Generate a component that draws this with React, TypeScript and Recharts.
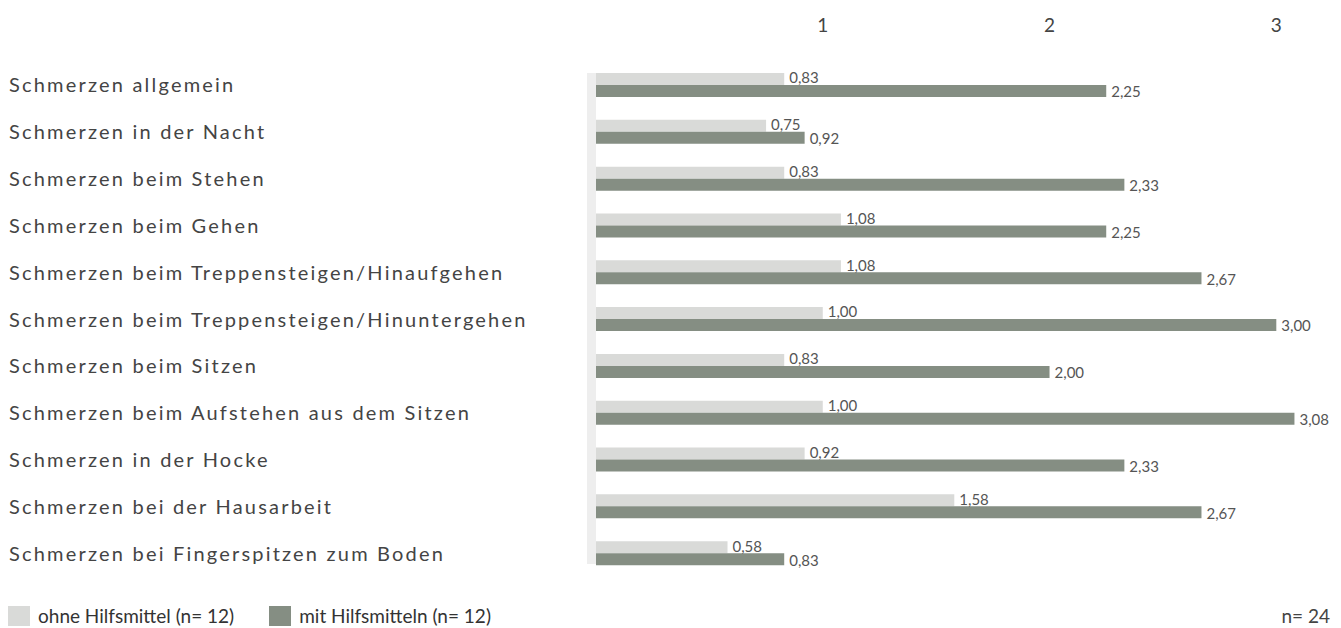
import { BarChart, Bar, XAxis, YAxis, LabelList } from 'recharts';

const categories = [
  'Schmerzen allgemein',
  'Schmerzen in der Nacht',
  'Schmerzen beim Stehen',
  'Schmerzen beim Gehen',
  'Schmerzen beim Treppensteigen/Hinaufgehen',
  'Schmerzen beim Treppensteigen/Hinuntergehen',
  'Schmerzen beim Sitzen',
  'Schmerzen beim Aufstehen aus dem Sitzen',
  'Schmerzen in der Hocke',
  'Schmerzen bei der Hausarbeit',
  'Schmerzen bei Fingerspitzen zum Boden',
];
const ohneHilfsmittel = [0.83, 0.75, 0.83, 1.08, 1.08, 1.0, 0.83, 1.0, 0.92, 1.58, 0.58];
const mitHilfsmitteln = [2.25, 0.92, 2.33, 2.25, 2.67, 3.0, 2.0, 3.08, 2.33, 2.67, 0.83];
const axisTicks = [1, 2, 3];

const LIGHT = '#d9dad8';
const DARK = '#858e83';
const FONT = 'Lato, "Open Sans", sans-serif';

const data = categories.map((name, i) => ({
  name,
  ohne: ohneHilfsmittel[i],
  mit: mitHilfsmitteln[i],
}));

const fmt = (v: any) => Number(v).toFixed(2).replace('.', ',');

// category labels are left aligned at the very left of the chart
const CategoryTick = (props: any) => {
  const { y, payload } = props;
  return (
    <text x={1} y={y} dy={7} fill="#444" fontSize={20} fontFamily={FONT} letterSpacing={2.2} textAnchor="start">
      {payload.value}
    </text>
  );
};

export default function App() {
  return (
    <div style={{ position: 'relative', width: 1325, height: 620, fontFamily: FONT }}>
      {/* grey band at the start of the bars */}
      <div style={{ position: 'absolute', left: 579, top: 65, width: 9, height: 491, background: '#eeeeee' }} />
      <BarChart
        width={1325}
        height={620}
        data={data}
        layout="vertical"
        margin={{ top: 14, right: 0, bottom: 51, left: 0 }}
        barGap={0}
        style={{ position: 'relative' }}
      >
        <XAxis
          type="number"
          orientation="top"
          domain={[0, 3.25]}
          ticks={axisTicks}
          axisLine={false}
          tickLine={false}
          height={40}
          tickMargin={24}
          tick={{ fill: '#444', fontSize: 19, fontFamily: FONT }}
        />
        <YAxis
          type="category"
          dataKey="name"
          width={588}
          axisLine={false}
          tickLine={false}
          tick={<CategoryTick />}
          interval={0}
        />
        <Bar dataKey="ohne" fill={LIGHT} barSize={12} isAnimationActive={false}>
          <LabelList dataKey="ohne" position="right" offset={5} formatter={fmt} fill="#555" fontSize={15} fontFamily={FONT} dy={-1} />
        </Bar>
        <Bar dataKey="mit" fill={DARK} barSize={12} isAnimationActive={false}>
          <LabelList dataKey="mit" position="right" offset={5} formatter={fmt} fill="#555" fontSize={15} fontFamily={FONT} dy={1} />
        </Bar>
      </BarChart>
      <div style={{ position: 'absolute', left: 0, top: 598, display: 'flex', alignItems: 'center', fontSize: 19, color: '#333', lineHeight: '20px' }}>
        <span style={{ width: 22, height: 20, background: LIGHT, display: 'inline-block', marginRight: 8 }} />
        <span style={{ marginRight: 35 }}>ohne Hilfsmittel (n= 12)</span>
        <span style={{ width: 22, height: 20, background: DARK, display: 'inline-block', marginRight: 8 }} />
        <span>mit Hilfsmitteln (n= 12)</span>
      </div>
      <div style={{ position: 'absolute', right: 3, top: 598, fontSize: 19, color: '#444', lineHeight: '20px' }}>n= 24</div>
    </div>
  );
}
